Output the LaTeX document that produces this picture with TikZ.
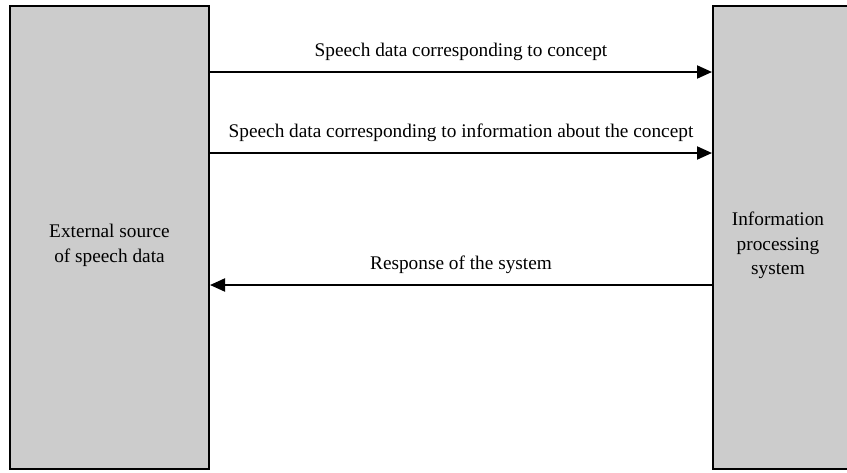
\documentclass[tikz,border=0pt]{standalone}
\usepackage{fontspec}
\setmainfont{Liberation Serif}
\usetikzlibrary{arrows.meta}
\begin{document}
\begin{tikzpicture}[x=1pt,y=-1pt,
  blk/.style={draw=black,line width=2pt,fill={rgb,255:red,204;green,204;blue,204}},
  btxt/.style={align=center,font=\fontsize{19.3}{24.5}\selectfont},
  conn/.style={line width=2pt,-{Triangle[length=15pt,width=13pt]}},
  lbl/.style={font=\fontsize{19.3}{23}\selectfont,anchor=south,inner sep=0pt}]
\useasboundingbox (0,0) rectangle (847,472);
\clip (0,0) rectangle (847,472);
\node[blk,minimum width=199pt,minimum height=463pt] (src) at (109.5,237.5) {};
\node[blk,minimum width=140pt,minimum height=463pt] (sys) at (783,237.5) {};
\node[btxt] (srct) at (109.5,245.5) {External source\\of speech data};
\node[btxt] (syst) at (778,245.5) {Information\\processing\\system};
\coordinate (a1s) at (src.east |- 0,72);
\coordinate (a1e) at (sys.west |- 0,72);
\coordinate (a2s) at (src.east |- 0,153);
\coordinate (a2e) at (sys.west |- 0,153);
\coordinate (a3s) at (sys.west |- 0,285);
\coordinate (a3e) at (src.east |- 0,285);
\draw[conn] (a1s) -- (a1e);
\draw[conn] (a2s) -- (a2e);
\draw[conn] (a3s) -- (a3e);
\node[lbl] (l1) at (461,61) {Speech data corresponding to concept};
\node[lbl] (l2) at (461,141.5) {Speech data corresponding to information about the concept};
\node[lbl] (l3) at (461,274) {Response of the system};
\end{tikzpicture}
\end{document}
